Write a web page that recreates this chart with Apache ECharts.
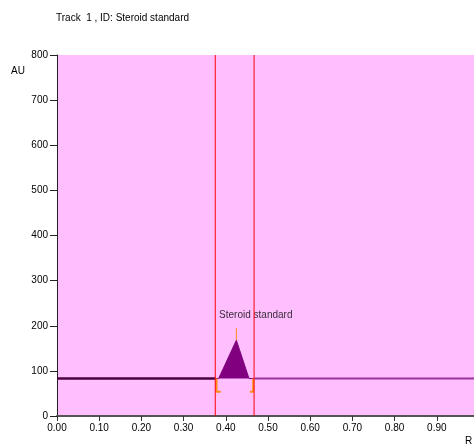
<!DOCTYPE html>
<html><head><meta charset="utf-8">
<script src="https://cdn.jsdelivr.net/npm/echarts@6/dist/echarts.min.js"></script>
<style>html,body{margin:0;padding:0;background:#fff;}#c{width:474px;height:445px;}</style>
</head><body><div id="c"></div>
<script>
const xTicks = ['0.00','0.10','0.20','0.30','0.40','0.50','0.60','0.70','0.80','0.90'];
const yTicks = [0,100,200,300,400,500,600,700,800];
const baselineLeft = [[0,83],[0.375,83]];
const peakShape = [[0.375,83],[0.383,83],[0.425,168],[0.455,83],[0.467,83]];
const baselineRight = [[0.467,83],[1.0,83]];
const bracketLeft = [[0.378,83],[0.378,54],[0.388,54]];
const bracketRight = [[0.465,83],[0.465,54],[0.457,54]];
const peakMarker = [[0.425,168],[0.425,195]];
const trackStart = [[0.375,0],[0.375,800]];
const trackEnd = [[0.467,0],[0.467,800]];
const peakLabel = [[0.471,224,'Steroid standard']];

const font = 'Liberation Sans';
const chart = echarts.init(document.getElementById('c'), null, {renderer:'canvas'});
chart.setOption({
  animation:false,
  backgroundColor:'#ffffff',
  title:{text:'Track  1 , ID: Steroid standard', left:56, top:13, padding:0,
    textStyle:{fontFamily:font,fontSize:10,fontWeight:'normal',color:'#000'}},
  graphic:[
    {type:'text', left:11, top:66, style:{text:'AU', fontFamily:font, fontSize:10, fill:'#000'}},
    {type:'text', left:465, top:436, style:{text:'R', fontFamily:font, fontSize:10, fill:'#000'}}
  ],
  grid:{left:57, top:55, width:422, height:361, show:true, backgroundColor:'#ffbfff', borderWidth:0,
    containLabel:false, outerBoundsMode:'none'},
  xAxis:{type:'value', min:0, max:1, interval:0.1,
    axisLine:{lineStyle:{color:'#555',width:2}},
    axisTick:{show:true,length:5,lineStyle:{color:'#333'}},
    splitLine:{show:false},
    axisLabel:{fontFamily:font,fontSize:10,color:'#000',margin:7,
      formatter:(v)=>{const i=Math.round(v*10);return i<xTicks.length?xTicks[i]:'';}}
  },
  yAxis:{type:'value', min:0, max:800, interval:100,
    axisLine:{show:true,lineStyle:{color:'#222',width:1}},
    axisTick:{show:true,length:7,lineStyle:{color:'#222'}},
    splitLine:{show:false},
    axisLabel:{fontFamily:font,fontSize:10,color:'#000',margin:9,
      formatter:(v)=>yTicks.includes(v)?String(v):''}
  },
  series:[
    {type:'line', data:baselineLeft, symbol:'none', lineStyle:{color:'#4a0040',width:2.5}, z:3},
    {type:'line', data:peakShape, symbol:'none', lineStyle:{color:'#800080',width:1},
     areaStyle:{color:'#800080',opacity:1,origin:83}, z:3},
    {type:'line', data:baselineRight, symbol:'none', lineStyle:{color:'#993399',width:2}, z:3},
    {type:'line', data:trackStart, symbol:'none', lineStyle:{color:'#ff0000',width:1}, z:6},
    {type:'line', data:trackEnd, symbol:'none', lineStyle:{color:'#ff0000',width:1}, z:6},
    {type:'line', data:bracketLeft, symbol:'none', lineStyle:{color:'#ff8c1a',width:2}, z:4},
    {type:'line', data:bracketRight, symbol:'none', lineStyle:{color:'#ff8c1a',width:2}, z:4},
    {type:'line', data:peakMarker, symbol:'none', lineStyle:{color:'#ff8c1a',width:1}, z:4},
    {type:'scatter', data:peakLabel, symbolSize:0, z:5,
     label:{show:true, position:'inside', formatter:(p)=>p.data[2],
       fontFamily:font,fontSize:10,color:'#000'}}
  ]
});
</script></body></html>
